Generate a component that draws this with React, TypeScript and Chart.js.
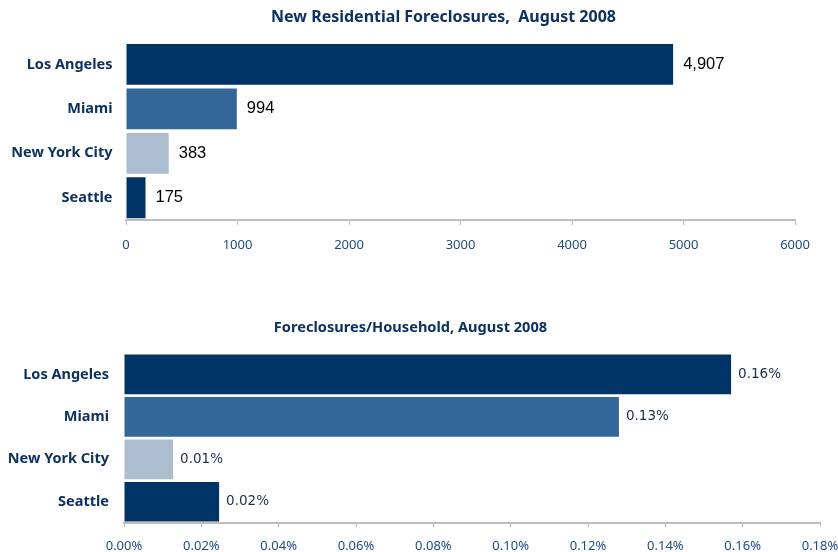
import React, { useEffect, useRef } from 'react';
import { Chart, registerables } from 'chart.js';

Chart.register(...registerables);

const cities = ['Los Angeles', 'Miami', 'New York City', 'Seattle'];
const foreclosures = [4907, 994, 383, 175];
const perHousehold = [0.157, 0.128, 0.0127, 0.0246];
const barColors = ['#003366', '#336699', '#adbdd0', '#003366'];
const title1 = 'New Residential Foreclosures,  August 2008';
const title2 = 'Foreclosures/Household, August 2008';

const NAVY = '#0d3260';
const TICK_BLUE = '#1d4b85';
const AXIS_GRAY = '#bdbdbd';
const SANS = '"Noto Sans", Tahoma, sans-serif';

type Opts = {
  labels: string[];
  values: number[];
  title: string;
  titleSize: number;
  titleX: number;
  titleY: number;
  padTop: number;
  yWidth: number;
  xHeight: number;
  padRight: number;
  barPct: number;
  max: number;
  step: number;
  tickFmt: (v: number) => string;
  valueFmt: (v: number) => string;
  valueFont: string;
  valueColor: string;
  valueOffset: number;
  labelPad: number;
  tickLen: number;
  tickPad: number;
  tickFontSize: number;
};

function makeChart(canvas: HTMLCanvasElement, o: Opts) {
  const valuePlugin = {
    id: 'valueLabels',
    afterDatasetsDraw(chart: any) {
      const ctx = chart.ctx;
      const meta = chart.getDatasetMeta(0);
      ctx.save();
      ctx.font = o.valueFont;
      ctx.fillStyle = o.valueColor;
      ctx.textAlign = 'left';
      ctx.textBaseline = 'middle';
      meta.data.forEach((bar: any, i: number) => {
        ctx.fillText(o.valueFmt(o.values[i]), bar.x + o.valueOffset, bar.y);
      });
      ctx.restore();
    },
  };
  const titlePlugin = {
    id: 'chartTitle',
    afterDraw(chart: any) {
      const ctx = chart.ctx;
      ctx.save();
      ctx.font = `bold ${o.titleSize}px ${SANS}`;
      ctx.fillStyle = NAVY;
      ctx.textAlign = 'center';
      ctx.textBaseline = 'middle';
      ctx.fillText(o.title, o.titleX, o.titleY);
      ctx.restore();
    },
  };
  return new Chart(canvas, {
    type: 'bar',
    data: {
      labels: o.labels,
      datasets: [
        {
          data: o.values,
          backgroundColor: barColors,
          borderWidth: 0,
          barPercentage: o.barPct,
          categoryPercentage: 1,
        },
      ],
    },
    options: {
      indexAxis: 'y',
      responsive: false,
      animation: false,
      layout: { padding: { left: 0, right: o.padRight, top: o.padTop, bottom: 0 } },
      plugins: {
        legend: { display: false },
        tooltip: { enabled: false },
        title: { display: false },
      },
      scales: {
        x: {
          min: 0,
          max: o.max,
          ticks: {
            stepSize: o.step,
            color: TICK_BLUE,
            font: { family: SANS, size: o.tickFontSize },
            padding: o.tickPad,
            maxRotation: 0,
            callback: (v: any) => o.tickFmt(Number(v)),
          },
          grid: {
            display: true,
            drawOnChartArea: false,
            drawTicks: true,
            tickLength: o.tickLen,
            color: AXIS_GRAY,
            lineWidth: 1,
          },
          border: { display: true, color: AXIS_GRAY, width: 2 },
          afterFit: (s: any) => {
            s.height = o.xHeight;
            s.paddingLeft = 0;
            s.paddingRight = 0;
          },
        },
        y: {
          ticks: {
            color: NAVY,
            font: { family: SANS, size: 14.5, weight: 'bold' },
            padding: o.labelPad,
          },
          grid: { display: false, drawTicks: false },
          border: { display: false },
          afterFit: (s: any) => {
            s.width = o.yWidth;
          },
        },
      },
    },
    plugins: [valuePlugin, titlePlugin],
  } as any);
}

export default function App() {
  const ref1 = useRef<HTMLCanvasElement>(null);
  const ref2 = useRef<HTMLCanvasElement>(null);

  useEffect(() => {
    const c1 = makeChart(ref1.current!, {
      labels: cities,
      values: foreclosures,
      title: title1,
      titleSize: 16,
      titleX: 443.5,
      titleY: 17,
      padTop: 42.2,
      yWidth: 126,
      xHeight: 42,
      padRight: 43,
      barPct: 0.92,
      max: 6000,
      step: 1000,
      tickFmt: (v) => String(v),
      valueFmt: (v) => v.toLocaleString('en-US'),
      valueFont: '16.5px "Liberation Sans", Arial, sans-serif',
      valueColor: '#000000',
      valueOffset: 10,
      labelPad: 13.5,
      tickLen: 5,
      tickPad: 12,
      tickFontSize: 13,
    });
    const c2 = makeChart(ref2.current!, {
      labels: cities,
      values: perHousehold,
      title: title2,
      titleSize: 14.6,
      titleX: 410.5,
      titleY: 52.3,
      padTop: 77.2,
      yWidth: 124,
      xHeight: 29,
      padRight: 18,
      barPct: 0.935,
      max: 0.18,
      step: 0.02,
      tickFmt: (v) => v.toFixed(2) + '%',
      valueFmt: (v) => v.toFixed(2) + '%',
      valueFont: '13.5px "DejaVu Sans", Verdana, sans-serif',
      valueColor: '#1f2d4a',
      valueOffset: 7,
      labelPad: 15,
      tickLen: 4,
      tickPad: 11,
      tickFontSize: 13,
    });
    return () => {
      c1.destroy();
      c2.destroy();
    };
  }, []);

  return (
    <div
      style={{
        position: 'fixed',
        left: 0,
        top: 0,
        width: 838,
        height: 552,
        background: '#ffffff',
      }}
    >
      <canvas
        ref={ref1}
        width={838}
        height={262}
        style={{ position: 'absolute', left: 0, top: 0 }}
      />
      <canvas
        ref={ref2}
        width={838}
        height={276}
        style={{ position: 'absolute', left: 0, top: 276 }}
      />
    </div>
  );
}
